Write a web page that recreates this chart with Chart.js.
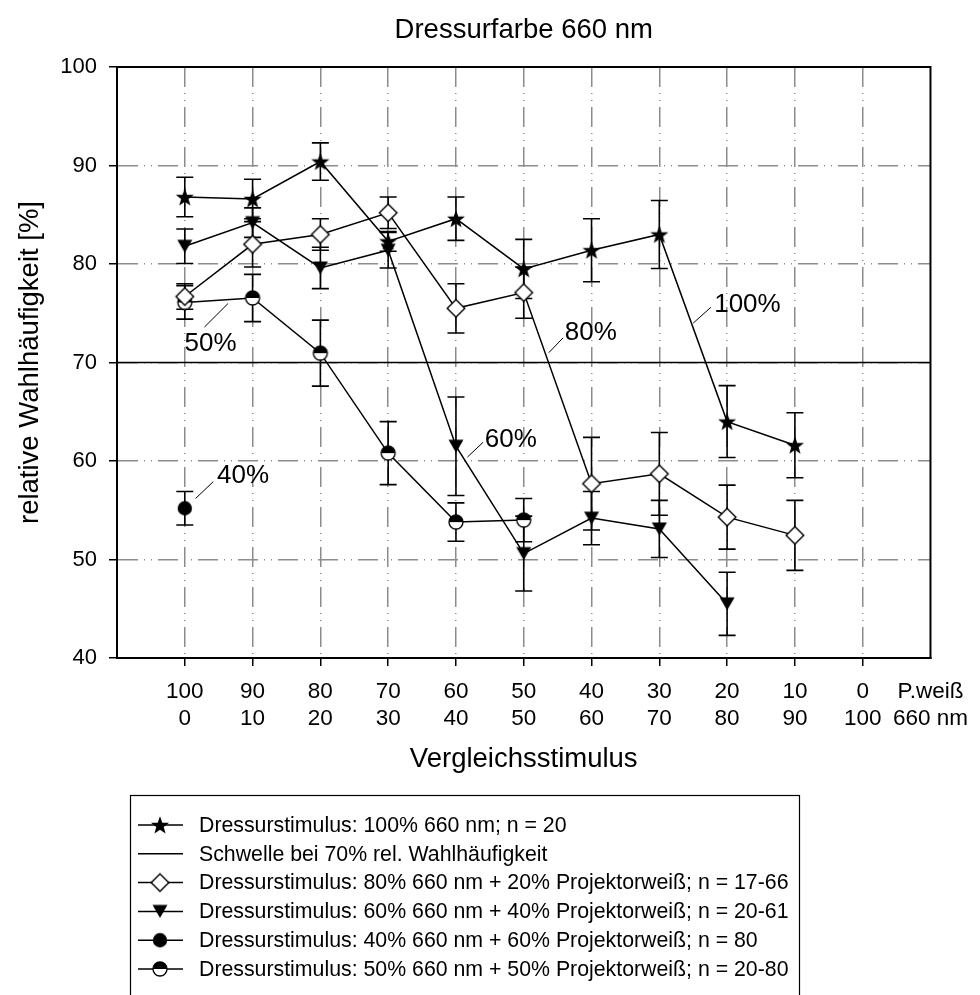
<!DOCTYPE html>
<html>
<head>
<meta charset="utf-8">
<script src="https://cdn.jsdelivr.net/npm/chart.js@4.4.1/dist/chart.umd.min.js"></script>
<style>
html,body{margin:0;padding:0;background:#fff;}
#wrap{width:980px;height:995px;position:relative;overflow:hidden;}
canvas{display:block;}
</style>
</head>
<body>
<div id="wrap"><canvas id="c" width="980" height="995"></canvas></div>
<script>
// ---------- data ----------
const topLabels    = ['100','90','80','70','60','50','40','30','20','10','0'];
const bottomLabels = ['0','10','20','30','40','50','60','70','80','90','100'];
const endLabel     = ['P.weiß','660 nm'];
const yTickValues  = [40, 50, 60, 70, 80, 90, 100];
const thresholdValue = 70;

const series100    = [86.8, 86.6, 90.4, 82.3, 84.6, 79.5, 81.4, 83.0, 64.0, 61.6, null];
const series100Err = [2.0, 2.0, 1.9, 1.0, 2.2, 3.0, 3.2, 3.45, 3.65, 3.3, null];

const series80     = [76.7, 82.0, 83.0, 85.2, 75.5, 77.1, 57.7, 58.7, 54.3, 52.45, null];
const series80Err  = [1.3, 2.3, 1.6, 1.6, 2.5, 2.6, 4.7, 4.2, 3.25, 3.55, null];

const series60     = [81.8, 84.2, 79.6, 81.4, 61.5, 50.6, 54.2, 53.1, 45.5, null, null];
const series60Err  = [1.75, 1.5, 2.1, 1.8, 5.0, 3.8, 2.7, 2.9, 3.2, null, null];

const series40     = [55.2, null, null, null, null, null, null, null, null, null, null];
const series40Err  = [1.7, null, null, null, null, null, null, null, null, null, null];

const series50     = [76.1, 76.55, 70.95, 60.8, 53.8, 54.0, null, null, null, null, null];
const series50Err  = [1.7, 2.4, 3.35, 3.2, 1.95, 2.2, null, null, null, null, null];

const legendTexts = [
  'Dressurstimulus: 100% 660 nm; n = 20',
  'Schwelle bei 70% rel. Wahlhäufigkeit',
  'Dressurstimulus: 80% 660 nm + 20% Projektorweiß; n = 17-66',
  'Dressurstimulus: 60% 660 nm + 40% Projektorweiß; n = 20-61',
  'Dressurstimulus: 40% 660 nm + 60% Projektorweiß; n = 80',
  'Dressurstimulus: 50% 660 nm + 50% Projektorweiß; n = 20-80'
];
const curveLabels = ['50%', '40%', '60%', '80%', '100%'];

// ---------- styling / helpers ----------
const FONT = "'Liberation Sans', Arial, Helvetica, sans-serif";
const GRID = '#8c8c8c';
const DASH = [20, 6, 1, 6, 1, 6];

function makeCanvas(w, h, draw) {
  const c = document.createElement('canvas');
  c.width = w; c.height = h;
  draw(c.getContext('2d'));
  return c;
}
const starImg = makeCanvas(22, 22, g => {
  g.beginPath();
  for (let i = 0; i < 10; i++) {
    const r = i % 2 ? 3.9 : 9.5;
    const a = -Math.PI / 2 + i * Math.PI / 5;
    const px = 11 + r * Math.cos(a), py = 11.8 + r * Math.sin(a);
    if (i) g.lineTo(px, py); else g.moveTo(px, py);
  }
  g.closePath(); g.fillStyle = '#000'; g.fill();
});
const diamondImg = makeCanvas(22, 22, g => {
  g.beginPath(); g.moveTo(11, 2.2); g.lineTo(19.8, 11); g.lineTo(11, 19.8); g.lineTo(2.2, 11); g.closePath();
  g.fillStyle = '#fff'; g.fill(); g.lineWidth = 1.4; g.strokeStyle = '#000'; g.stroke();
});
const triImg = makeCanvas(22, 22, g => {
  g.beginPath(); g.moveTo(3.5, 4.5); g.lineTo(18.5, 4.5); g.lineTo(11, 17.5); g.closePath();
  g.fillStyle = '#000'; g.fill();
});
const dotImg = makeCanvas(22, 22, g => {
  g.beginPath(); g.arc(11, 11, 7.2, 0, Math.PI * 2); g.fillStyle = '#000'; g.fill();
});
const halfImg = makeCanvas(22, 22, g => {
  g.beginPath(); g.arc(11, 11, 7, 0, Math.PI * 2); g.fillStyle = '#fff'; g.fill();
  g.beginPath(); g.arc(11, 11, 7, Math.PI, 0); g.closePath(); g.fillStyle = '#000'; g.fill();
  g.beginPath(); g.arc(11, 11, 7, 0, Math.PI * 2); g.lineWidth = 1.3; g.strokeStyle = '#000'; g.stroke();
});

function points(vals, errs) {
  const out = [];
  vals.forEach((v, i) => { if (v != null) out.push({ x: i, y: v, err: errs[i] }); });
  return out;
}
function series(label, vals, errs, img) {
  return {
    label, data: points(vals, errs), errorBars: true,
    borderColor: '#000', backgroundColor: '#000', borderWidth: 1.5,
    pointStyle: img, pointRadius: 9, pointHoverRadius: 9, tension: 0, fill: false,
    marker: img
  };
}
const lastIdx = topLabels.length; // 11 -> "P.weiß"

const datasets = [
  series(legendTexts[0], series100, series100Err, starImg),
  { label: legendTexts[1], data: [{ x: -1, y: thresholdValue }, { x: lastIdx, y: thresholdValue }],
    borderColor: '#000', borderWidth: 1.6, pointRadius: 0, fill: false, marker: null },
  series(legendTexts[2], series80, series80Err, diamondImg),
  series(legendTexts[3], series60, series60Err, triImg),
  series(legendTexts[4], series40, series40Err, dotImg),
  series(legendTexts[5], series50, series50Err, halfImg)
];

// curve label anchors expressed in axis units (category index, percent)
const curveLabelPos = [
  { t: curveLabels[0], at: [0.38, 71.9], from: [0.29, 73.6], to: [0.64, 76.0] },
  { t: curveLabels[1], at: [0.86, 58.5], from: [0.16, 56.2], to: [0.42, 57.9] },
  { t: curveLabels[2], at: [4.81, 62.1], from: [4.17, 60.4], to: [4.40, 61.9] },
  { t: curveLabels[3], at: [5.99, 73.0], from: [5.37, 71.0], to: [5.58, 72.5] },
  { t: curveLabels[4], at: [8.30, 75.9], from: [7.50, 74.0], to: [7.76, 75.6] }
];

// ---------- plugins ----------
const errorBarPlugin = {
  id: 'errorBars',
  beforeDatasetsDraw(chart) {
    const { ctx } = chart; const xs = chart.scales.x, ys = chart.scales.y;
    ctx.save(); ctx.strokeStyle = '#000'; ctx.lineWidth = 1.6;
    chart.data.datasets.forEach(ds => {
      if (!ds.errorBars) return;
      ds.data.forEach(p => {
        if (p.err == null) return;
        const px = xs.getPixelForValue(p.x);
        const pt = ys.getPixelForValue(p.y + p.err), pb = ys.getPixelForValue(p.y - p.err);
        ctx.beginPath();
        ctx.moveTo(px, pt); ctx.lineTo(px, pb);
        ctx.moveTo(px - 8.5, pt); ctx.lineTo(px + 8.5, pt);
        ctx.moveTo(px - 8.5, pb); ctx.lineTo(px + 8.5, pb);
        ctx.stroke();
      });
    });
    ctx.restore();
  }
};

const framePlugin = {
  id: 'frame',
  afterDatasetsDraw(chart) {
    const { ctx, chartArea: a } = chart; const xs = chart.scales.x, ys = chart.scales.y;
    ctx.save();
    ctx.strokeStyle = '#000'; ctx.lineWidth = 2;
    ctx.strokeRect(a.left, a.top, a.right - a.left, a.bottom - a.top);
    ctx.lineWidth = 1; ctx.fillStyle = '#000';
    ctx.font = '26px ' + FONT; ctx.textAlign = 'center'; ctx.textBaseline = 'middle';
    curveLabelPos.forEach(l => {
      ctx.beginPath();
      ctx.moveTo(xs.getPixelForValue(l.from[0]), ys.getPixelForValue(l.from[1]));
      ctx.lineTo(xs.getPixelForValue(l.to[0]), ys.getPixelForValue(l.to[1]));
      ctx.stroke();
      ctx.fillText(l.t, xs.getPixelForValue(l.at[0]), ys.getPixelForValue(l.at[1]));
    });
    ctx.restore();
  }
};

const titleLegendPlugin = {
  id: 'titleLegend',
  afterDraw(chart) {
    const { ctx, chartArea: a } = chart;
    ctx.save();
    ctx.fillStyle = '#000';
    ctx.font = '27.5px ' + FONT; ctx.textAlign = 'center'; ctx.textBaseline = 'middle';
    ctx.fillText('Dressurfarbe 660 nm', (a.left + a.right) / 2, 30);
    // legend box
    ctx.font = '21.3px ' + FONT; ctx.textAlign = 'left';
    let maxW = 0;
    chart.data.datasets.forEach(ds => { maxW = Math.max(maxW, ctx.measureText(ds.label).width); });
    ctx.strokeStyle = '#000'; ctx.lineWidth = 1.2;
    ctx.strokeRect(130.5, 795.5, Math.round(199 + maxW + 11 - 130), 240);
    chart.data.datasets.forEach((ds, i) => {
      const yy = 825 + i * 28.8;
      ctx.beginPath(); ctx.lineWidth = 1.5;
      ctx.moveTo(138, yy); ctx.lineTo(183, yy); ctx.stroke();
      if (ds.marker) ctx.drawImage(ds.marker, 160 - 11, yy - 11);
      ctx.fillText(ds.label, 199, yy + 1);
    });
    ctx.restore();
  }
};

// ---------- chart ----------
Chart.defaults.font.family = FONT;
Chart.defaults.color = '#000';

new Chart(document.getElementById('c'), {
  type: 'line',
  data: { datasets },
  options: {
    responsive: false,
    animation: false,
    devicePixelRatio: 1,
    layout: { padding: { top: 67, left: 0, right: 42, bottom: 207 } },
    plugins: { legend: { display: false }, tooltip: { enabled: false }, title: { display: false } },
    scales: {
      x: {
        type: 'linear', min: -1, max: lastIdx,
        afterBuildTicks: s => { const t = []; for (let v = -1; v <= lastIdx; v++) t.push({ value: v }); s.ticks = t; },
        afterFit: s => { s.height = 130; },
        ticks: {
          autoSkip: false, maxRotation: 0, minRotation: 0, padding: 12, color: '#000',
          font: { size: 22.5 },
          callback: v => (v >= 0 && v < lastIdx) ? [topLabels[v], bottomLabels[v]] : (v === lastIdx ? endLabel : '')
        },
        grid: {
          color: c => (c.tick && c.tick.value >= 0 && c.tick.value < lastIdx) ? GRID : 'rgba(0,0,0,0)',
          tickColor: c => (c.tick && c.tick.value >= 0 && c.tick.value < lastIdx) ? '#000' : 'rgba(0,0,0,0)',
          lineWidth: 1.5, tickLength: 8, drawOnChartArea: true, drawTicks: true
        },
        border: { display: true, color: '#000', width: 2, dash: DASH },
        title: { display: true, text: 'Vergleichsstimulus', font: { size: 27.5 }, color: '#000', padding: { top: 0, bottom: 12 } }
      },
      y: {
        min: 40, max: 100,
        afterBuildTicks: s => { s.ticks = yTickValues.map(v => ({ value: v })); },
        afterFit: s => { s.width = 117; },
        ticks: { padding: 12, color: '#000', font: { size: 22 } },
        grid: {
          color: c => (c.tick && (c.tick.value === 40 || c.tick.value === 100)) ? 'rgba(0,0,0,0)' : GRID,
          tickColor: '#000', lineWidth: 1.5, tickLength: 8
        },
        border: { display: true, color: '#000', width: 2, dash: DASH },
        title: { display: true, text: 'relative Wahlhäufigkeit [%]', font: { size: 27.5 }, color: '#000', padding: { top: 14, bottom: 0 } }
      }
    }
  },
  plugins: [errorBarPlugin, framePlugin, titleLegendPlugin]
});
</script>
</body>
</html>
